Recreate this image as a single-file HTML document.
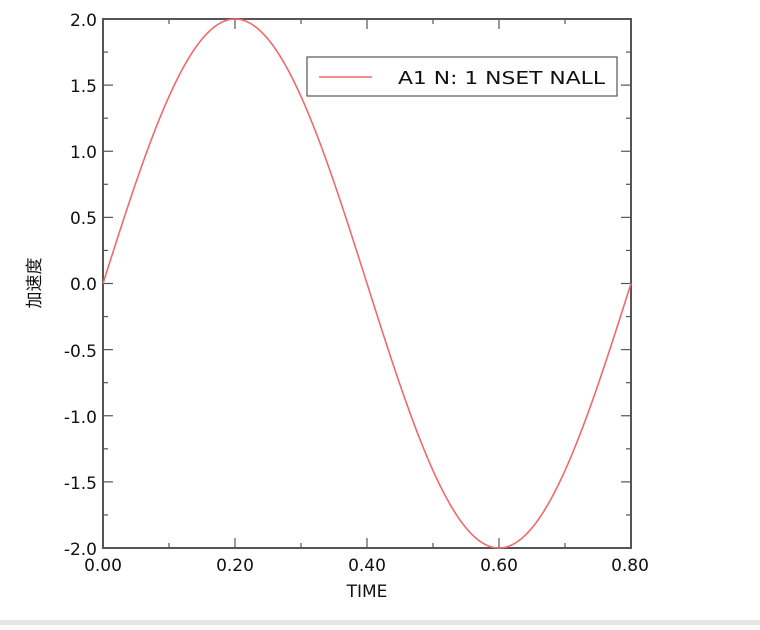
<!DOCTYPE html>
<html><head><meta charset="utf-8"><style>
body{margin:0;background:#fff;width:760px;height:625px;overflow:hidden}
text{font-family:"DejaVu Sans","Liberation Sans",sans-serif;fill:#111}
</style></head><body>
<svg id="s" width="760" height="625" xmlns="http://www.w3.org/2000/svg">
<rect x="0" y="620" width="760" height="5" fill="#e4e4e4"/>
<g id="ticks" stroke="#555" stroke-width="1.2"></g>
<rect x="103" y="19" width="528" height="529" fill="none" stroke="#555" stroke-width="2"/>
<polyline id="curve" fill="none" stroke="#f06a6a" stroke-width="1.6" points=""/>
<rect x="307" y="57" width="310" height="39" fill="#fff" stroke="#555" stroke-width="1.2"/>
<line x1="319" y1="77" x2="372" y2="77" stroke="#f06a6a" stroke-width="1.6"/>
<text x="398" y="84" font-size="18" textLength="207" lengthAdjust="spacingAndGlyphs">A1 N: 1 NSET NALL</text>
<g font-size="17" text-anchor="end">
<text x="97" y="26">2.0</text><text x="97" y="92">1.5</text><text x="97" y="158">1.0</text>
<text x="97" y="224">0.5</text><text x="97" y="290">0.0</text><text x="97" y="357">-0.5</text>
<text x="97" y="423">-1.0</text><text x="97" y="489">-1.5</text><text x="97" y="555">-2.0</text>
</g>
<g font-size="17" text-anchor="middle">
<text x="103" y="571">0.00</text><text x="235" y="571">0.20</text><text x="367" y="571">0.40</text>
<text x="499" y="571">0.60</text><text x="630" y="571">0.80</text>
<text x="367" y="597">TIME</text>
</g>
<text x="40" y="283" font-size="17" text-anchor="middle" transform="rotate(-90 40 283)" style="font-family:'Liberation Sans','Noto Sans CJK SC',sans-serif">加速度</text>
</svg>
<script>
var ns="http://www.w3.org/2000/svg",g=document.getElementById('ticks');
function L(a,b,c,d){var l=document.createElementNS(ns,'line');l.setAttribute('x1',a);l.setAttribute('y1',b);l.setAttribute('x2',c);l.setAttribute('y2',d);g.appendChild(l);}
for(var i=0;i<=8;i++){var x=103+66*i,len=i%2?5:10;L(x,548,x,548-len);L(x,19,x,19+len);}
for(var j=0;j<=16;j++){var y=19+529/16*j,len=j%2?5:10;L(103,y,103+len,y);L(631,y,631-len,y);}
var p=[];for(var k=0;k<=400;k++){var t=0.8*k/400;p.push((103+660*t).toFixed(2)+','+(283.5-132.25*2*Math.sin(2*Math.PI*t/0.8)).toFixed(2));}
document.getElementById('curve').setAttribute('points',p.join(' '));
</script>
</body></html>
